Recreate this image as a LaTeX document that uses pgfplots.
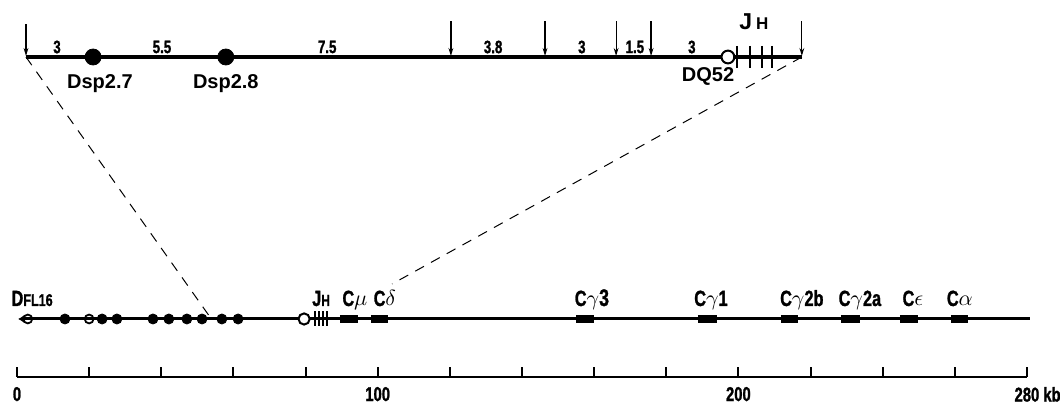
\documentclass[border=0pt]{standalone}
\usepackage{pgfplots}
\pgfplotsset{compat=1.18}
\usetikzlibrary{arrows.meta}
\usepackage{fontspec}
\setmainfont{Liberation Sans}
\newfontfamily\cond[FakeStretch=0.74,FakeBold=1.2]{Liberation Sans}
\newcommand{\lab}{\cond\bfseries\fontsize{11}{11}\selectfont}
\newcommand{\num}{\cond\bfseries\fontsize{9}{9}\selectfont}
\begin{document}
\begin{tikzpicture}
\begin{axis}[
  scale only axis, width=505pt, height=188.5pt,
  xmin=0, xmax=280, ymin=0, ymax=377,
  clip=false,
  axis x line*=bottom, axis y line=none,
  x axis line style={line width=1pt,-},
  xtick={0,20,...,280},
  xticklabels={0,,,,,100,,,,,200,,,,{280\rlap{ kb}}},
  tick align=inside, major tick length=5pt,
  every tick/.style={line width=1pt, black},
  xticklabel style={font=\cond\bfseries\fontsize{10}{10}\selectfont, yshift=-1.5pt},
]
% bounding box to match reference proportions
\path (axis cs:-4.71,-26) rectangle (axis cs:289.17,377);

% ---------- top expanded map ----------
\addplot[line width=2pt, no markers] coordinates {(2.5,320) (217.6,320)};
\addplot[line width=0.6pt, no markers, -{Stealth[length=4pt,width=2.4pt]}] coordinates {(2.5,353) (2.5,321)};
\addplot[line width=0.6pt, no markers, -{Stealth[length=4pt,width=2.4pt]}] coordinates {(120.3,356) (120.3,321)};
\addplot[line width=0.6pt, no markers, -{Stealth[length=4pt,width=2.4pt]}] coordinates {(146.4,356) (146.4,321)};
\addplot[line width=0.6pt, no markers, -{Stealth[length=4pt,width=2.4pt]}] coordinates {(166.1,356) (166.1,321)};
\addplot[line width=0.6pt, no markers, -{Stealth[length=4pt,width=2.4pt]}] coordinates {(175.8,356) (175.8,321)};
\addplot[line width=0.6pt, no markers, -{Stealth[length=4pt,width=2.4pt]}] coordinates {(217.6,356) (217.6,321)};
\addplot[only marks, mark=*, mark size=4pt, black] coordinates {(21.1,320) (57.9,320)};
\addplot[only marks, mark=|, mark size=5.5pt, black, mark options={line width=1.2pt}] coordinates {(199.6,320) (203.2,320) (206.5,320) (209.3,320)};
\addplot[only marks, mark=*, mark size=3.2pt, mark options={fill=white, draw=black, line width=1pt}] coordinates {(197.1,320)};

\node[font=\num] at (axis cs:11.1,330) {3};
\node[font=\num] at (axis cs:40.2,330) {5.5};
\node[font=\num] at (axis cs:86.0,330) {7.5};
\node[font=\num] at (axis cs:132.0,330) {3.8};
\node[font=\num] at (axis cs:156.6,330) {3};
\node[font=\num] at (axis cs:171.3,330) {1.5};
\node[font=\num] at (axis cs:187.1,330) {3};
\node[font=\bfseries\fontsize{10}{10}\selectfont] at (axis cs:23.0,293) {Dsp2.7};
\node[font=\bfseries\fontsize{10}{10}\selectfont] at (axis cs:57.9,293) {Dsp2.8};
\node[font=\bfseries\fontsize{10}{10}\selectfont] at (axis cs:191.6,301) {DQ52};
\node[font=\bfseries\fontsize{11.5}{11.5}\selectfont, anchor=base] at (axis cs:204.3,348) {J\,{\fontsize{8.5}{8.5}\selectfont H}};

% ---------- dashed connectors ----------
\addplot[line width=0.5pt, no markers, dash pattern=on 5pt off 4pt] coordinates {(2.5,320) (53.5,60)};
\addplot[line width=0.5pt, no markers, dash pattern=on 5pt off 4pt] coordinates {(217.6,320) (104.0,93)};

% ---------- bottom locus map ----------
\addplot[line width=1.5pt, no markers, {Latex[length=3pt,width=4pt]}-] coordinates {(0.3,58) (280.8,58)};
\addplot[only marks, mark=o, mark size=2.2pt, black, mark options={line width=0.9pt}] coordinates {(3.0,58) (20.0,58)};
\addplot[only marks, mark=*, mark size=2.5pt, black] coordinates {(13.3,58) (23.6,58) (27.7,58) (37.7,58) (42.1,58) (47.1,58) (51.3,58) (56.8,58) (61.3,58)};
\addplot[only marks, mark=|, mark size=3.75pt, black, mark options={line width=0.8pt}] coordinates {(82.6,58) (83.7,58) (84.8,58) (85.9,58)};
\addplot[only marks, mark=*, mark size=2.8pt, mark options={fill=white, draw=black, line width=1pt}] coordinates {(79.6,58)};
% constant-region boxes
\addplot[line width=4pt, no markers] coordinates {(89.5,58) (94.5,58)};
\addplot[line width=4pt, no markers] coordinates {(98.1,58) (102.9,58)};
\addplot[line width=4pt, no markers] coordinates {(155.0,58) (160.0,58)};
\addplot[line width=4pt, no markers] coordinates {(188.8,58) (194.1,58)};
\addplot[line width=4pt, no markers] coordinates {(211.8,58) (216.5,58)};
\addplot[line width=4pt, no markers] coordinates {(228.4,58) (233.7,58)};
\addplot[line width=4pt, no markers] coordinates {(244.8,58) (249.8,58)};
\addplot[line width=4pt, no markers] coordinates {(258.9,58) (263.6,58)};

\node[font=\lab, anchor=base] at (axis cs:4.2,71) {D{\fontsize{8.5}{8.5}\selectfont FL16}};
\node[font=\lab, anchor=base] at (axis cs:84.3,71) {J{\fontsize{8}{8}\selectfont H}};
\node[font=\lab, anchor=base] at (axis cs:93.7,71) {C$\mu$};
\node[font=\lab, anchor=base] at (axis cs:102.0,71) {C$\delta$};
\node[font=\lab, anchor=base] at (axis cs:159.4,71) {C$\gamma$\bfseries\fontsize{12}{12}\selectfont 3};
\node[font=\lab, anchor=base] at (axis cs:192.4,71) {C$\gamma$1};
\node[font=\lab, anchor=base] at (axis cs:217.6,71) {C$\gamma$2b};
\node[font=\lab, anchor=base] at (axis cs:233.7,71) {C$\gamma$2a};
\node[font=\lab, anchor=base] at (axis cs:248.4,71) {C$\epsilon$};
\node[font=\lab, anchor=base] at (axis cs:261.4,71) {C$\alpha$};
\end{axis}
\end{tikzpicture}
\end{document}
